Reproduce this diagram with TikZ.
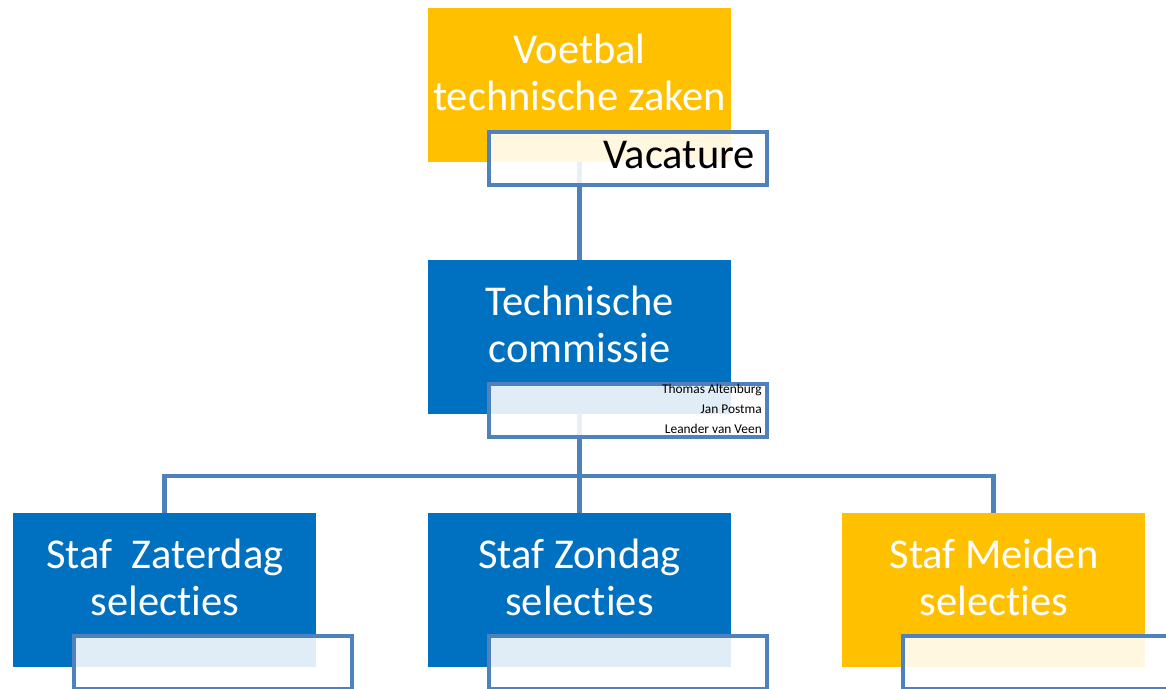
\documentclass[tikz,border=0pt]{standalone}
\usepackage{fontspec}
\setmainfont{Carlito}[Ligatures={NoCommon}]
\definecolor{gold}{HTML}{FFC000}
\definecolor{royal}{HTML}{0070C0}
\definecolor{steel}{HTML}{4F81BD}
\begin{document}
\begin{tikzpicture}[x=1pt,y=-1pt,
  mainbox/.style={rectangle,draw=none,minimum width=303pt,minimum height=154pt,inner sep=0pt,anchor=north west},
  goldbox/.style={mainbox,fill=gold},
  bluebox/.style={mainbox,fill=royal},
  subbox/.style={rectangle,draw=steel,line width=4pt,fill=white,fill opacity=0.88,minimum width=278pt,minimum height=53pt,inner sep=0pt,anchor=north west},
  title/.style={text=white,font=\fontsize{42.5}{47}\selectfont,align=center,anchor=base,inner sep=0pt},
  names/.style={text=black,font=\fontsize{13.4}{20}\selectfont,align=right,anchor=base east,inner sep=0pt},
  link/.style={draw=steel,line width=4.5pt}]
\useasboundingbox (0,0) rectangle (1166,688);
\clip (0,0) rectangle (1166,688);
% main boxes
\node[goldbox] (vtz) at (428,8) {};
\node[bluebox] (tc) at (428,260) {};
\node[bluebox] (za) at (13,513) {};
\node[bluebox] (zo) at (428,513) {};
\node[goldbox] (me) at (842,513) {};
% connectors
\coordinate (bus) at (579.5,476);
\draw[link] (vtz.south) -- (tc.north);
\draw[link] (tc.south) -- (zo.north);
\draw[link] (za.north) -- (za.north |- bus) -- (me.north |- bus) -- (me.north);
% sub boxes
\node[subbox] (vac) at (487,130) {};
\node[subbox] (tcn) at (487,382) {};
\node[subbox] (zan) at (72,634) {};
\node[subbox] (zon) at (487,634) {};
\node[subbox] (men) at (901,634) {};
% texts (base anchor = last line baseline)
\node[title] (t1) at (579.5,110) {Voetbal\\technische zaken};
\node[title] (t2) at (579.5,362) {Technische\\commissie};
\node[title] (t3) at (165,615) {Staf\ \ Zaterdag\\selecties};
\node[title] (t4) at (579.5,615) {Staf Zondag\\selecties};
\node[title] (t5) at (994,615) {Staf Meiden\\selecties};
\node[title,text=black,anchor=base east] (t6) at (755,168) {Vacature};
\node[names] (t7) at (762,433) {Thomas Altenburg\\Jan Postma\\Leander van Veen};
\end{tikzpicture}
\end{document}
